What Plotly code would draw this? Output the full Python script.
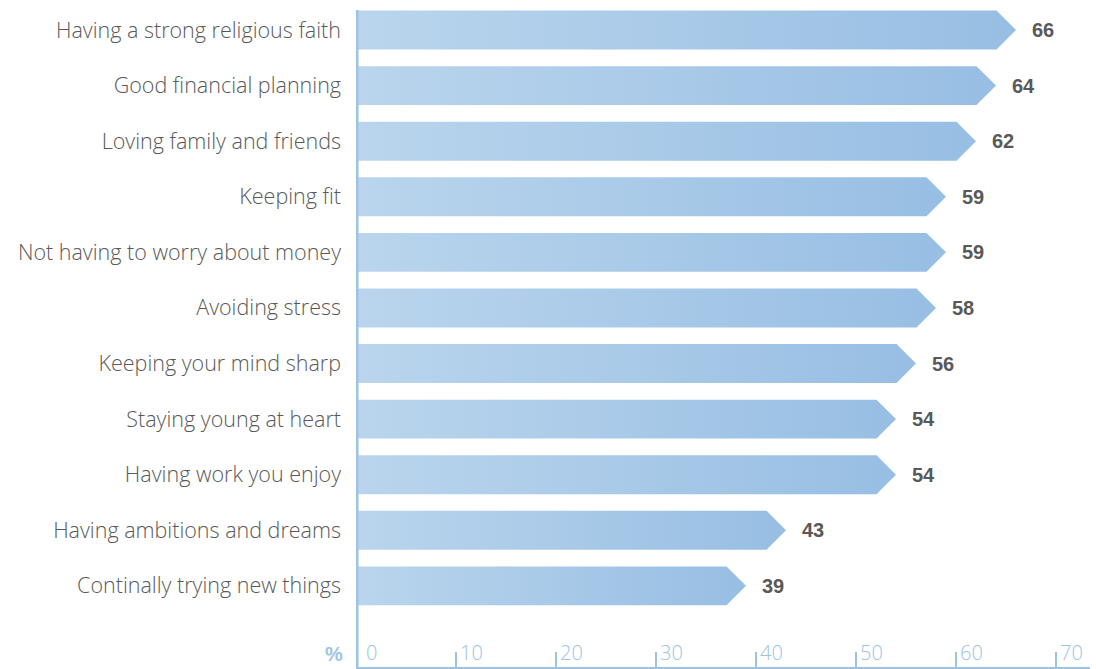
import plotly.graph_objects as go

# Survey results: share of respondents (%) naming each factor
categories = [
    "Having a strong religious faith",
    "Good financial planning",
    "Loving family and friends",
    "Keeping fit",
    "Not having to worry about money",
    "Avoiding stress",
    "Keeping your mind sharp",
    "Staying young at heart",
    "Having work you enjoy",
    "Having ambitions and dreams",
    "Continally trying new things",
]
values = [66, 64, 62, 59, 59, 58, 56, 54, 54, 43, 39]
x_ticks = [0, 10, 20, 30, 40, 50, 60, 70]

BAR_H = 0.70      # bar thickness in row units
HEAD = 1.95       # arrow-head length in axis units
AXIS_BLUE = "#9dc3e6"
TEXT_GREY = "#595959"

n = len(categories)
rows = [n - 1 - i for i in range(n)]   # first category on top

fig = go.Figure()

for cat, v, r in zip(categories, values, rows):
    top, bot = r + BAR_H / 2, r - BAR_H / 2
    xs = [0, v - HEAD, v, v - HEAD, 0, 0]
    ys = [bot, bot, r, top, top, bot]
    fig.add_trace(go.Scatter(
        x=xs, y=ys, mode="lines", fill="toself",
        line=dict(width=0, color="rgba(0,0,0,0)"),
        fillgradient=dict(type="horizontal",
                          colorscale=[[0, "#bad5ed"], [1, "#97bee3"]]),
        hoverinfo="skip", showlegend=False, name=cat,
    ))
    fig.add_annotation(
        x=v, y=r, xref="x", yref="y", text=f"<b>{v}</b>",
        showarrow=False, xanchor="left", xshift=14,
        font=dict(family="Liberation Sans, Arial", size=20, color=TEXT_GREY),
    )

# Axis numbers sit just right of their tick marks
for t in x_ticks:
    fig.add_annotation(
        x=t, y=0, xref="x", yref="paper", text=str(t),
        showarrow=False, xanchor="left", yanchor="bottom",
        xshift=(8 if t == 0 else 2), yshift=-1,
        font=dict(family="Open Sans", size=20, color=AXIS_BLUE, weight=300),
    )

fig.add_annotation(
    x=0, y=0, xref="x", yref="paper", text="<b>%</b>",
    showarrow=False, xanchor="right", yanchor="bottom", xshift=-11, yshift=0,
    font=dict(family="Liberation Sans, Arial", size=20, color=AXIS_BLUE),
)

# Thick baseline at zero, drawn over the bar starts
fig.add_shape(type="line", xref="x", yref="paper", x0=0, x1=0, y0=0, y1=1,
              line=dict(color=AXIS_BLUE, width=5), layer="above")

fig.update_layout(
    width=1096, height=669,
    margin=dict(l=356, r=6, t=10, b=2),
    paper_bgcolor="white", plot_bgcolor="white",
    xaxis=dict(
        range=[0, 73.4], tickvals=x_ticks[1:], ticktext=[""] * (len(x_ticks) - 1),
        ticks="inside", ticklen=15, tickwidth=1.5, tickcolor=AXIS_BLUE,
        showgrid=False, zeroline=False,
        showline=True, linecolor=AXIS_BLUE, linewidth=1.5,
        fixedrange=True,
    ),
    yaxis=dict(
        range=[-1.46, 10.36], tickvals=rows, ticktext=categories,
        ticks="", ticklabelstandoff=14,
        tickfont=dict(family="Open Sans", size=21.5, color=TEXT_GREY, weight=300),
        showgrid=False, zeroline=False, showline=False,
        fixedrange=True,
    ),
)

fig.write_html("out.html")
